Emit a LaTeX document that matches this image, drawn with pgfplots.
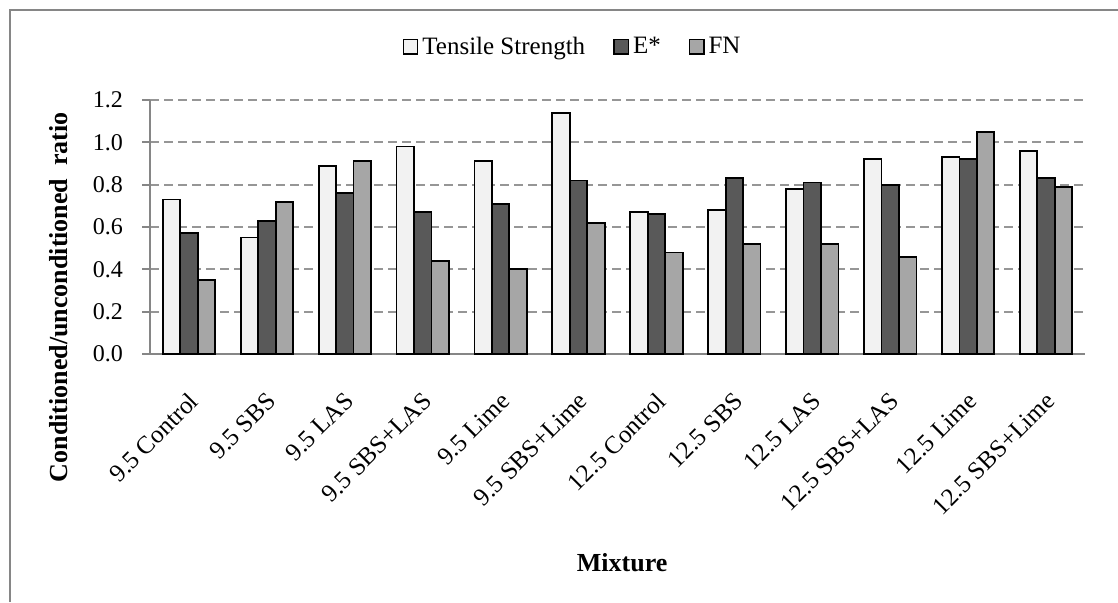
\documentclass[border=0pt]{standalone}
\usepackage{fontspec}
\setmainfont{Liberation Serif}
\usepackage{pgfplots}
\pgfplotsset{compat=1.18}
\definecolor{tsfill}{HTML}{F2F2F2}
\definecolor{efill}{HTML}{595959}
\definecolor{fnfill}{HTML}{A6A6A6}
\definecolor{axgray}{HTML}{868686}
\definecolor{gridgray}{HTML}{969696}
\begin{document}
\begin{tikzpicture}
\useasboundingbox (0,0) rectangle (559pt,301pt);
\draw[axgray, line width=1pt] (5pt,0) -- (5pt,296pt) -- (560pt,296pt);
\begin{axis}[
  at={(75pt,124pt)}, anchor=south west,
  width=467.5pt, height=127pt, scale only axis,
  xmin=-0.5, xmax=11.5, ymin=0, ymax=1.2,
  axis x line=bottom, axis y line=left,
  axis line style={-, draw=axgray, line width=1pt},
  ybar, bar width=0.224,
  xtick={0,...,11},
  xticklabels={9.5 Control,9.5 SBS,9.5 LAS,9.5 SBS+LAS,9.5 Lime,9.5 SBS+Lime,12.5 Control,12.5 SBS,12.5 LAS,12.5 SBS+LAS,12.5 Lime,12.5 SBS+Lime},
  x tick style={draw=none},
  xticklabel style={rotate=45, anchor=north east, font=\fontsize{12.5}{14}\selectfont, inner sep=1pt, yshift=-8.5pt, xshift=-9.5pt},
  extra x ticks={-0.5,0.5,...,11.5},
  extra x tick labels={},
  extra x tick style={tick style={draw=axgray, line width=1pt}, major tick length=4pt, tick align=outside},
  ytick={0,0.2,...,1.2},
  y tick style={draw=axgray, line width=1pt},
  major tick length=4pt, tick align=outside,
  yticklabel style={font=\fontsize{12}{14}\selectfont, xshift=-6pt, /pgf/number format/.cd, fixed, fixed zerofill, precision=1, assume math mode=true},
  ymajorgrids,
  grid style={gridgray, line width=1pt, dash pattern=on 4.3pt off 2.7pt},
  xlabel={\textbf{Mixture}},
  xlabel style={at={(axis description cs:0.505,-0.82)}, anchor=center, font=\fontsize{13}{15}\selectfont},
  ylabel={\textbf{Conditioned/unconditioned\ \ ratio}},
  ylabel style={at={(axis description cs:-0.0877,0.224)}, anchor=base, font=\fontsize{13}{15}\selectfont},
  legend style={at={(axis description cs:0.453,1.209)}, anchor=center, draw=none, fill=none,
    legend columns=-1, font=\fontsize{12.5}{14}\selectfont,
    /tikz/every even column/.append style={column sep=12pt}},
  legend image code/.code={\draw[#1, draw=black, line width=0.7pt] (0pt,-3.6pt) rectangle (7.2pt,3.6pt);},
]
\addplot[fill=tsfill, draw=black, line width=0.9pt, bar shift=-0.224] coordinates {
(0,0.73) (1,0.55) (2,0.89) (3,0.98) (4,0.91) (5,1.14) (6,0.67) (7,0.68) (8,0.78) (9,0.92) (10,0.93) (11,0.96)};
\addplot[fill=efill, draw=black, line width=0.9pt, bar shift=0] coordinates {
(0,0.57) (1,0.63) (2,0.76) (3,0.67) (4,0.71) (5,0.82) (6,0.66) (7,0.83) (8,0.81) (9,0.80) (10,0.92) (11,0.83)};
\addplot[fill=fnfill, draw=black, line width=0.9pt, bar shift=0.224] coordinates {
(0,0.35) (1,0.72) (2,0.91) (3,0.44) (4,0.40) (5,0.62) (6,0.48) (7,0.52) (8,0.52) (9,0.46) (10,1.05) (11,0.79)};
\legend{Tensile Strength, E*, FN}
\end{axis}
\end{tikzpicture}
\end{document}
